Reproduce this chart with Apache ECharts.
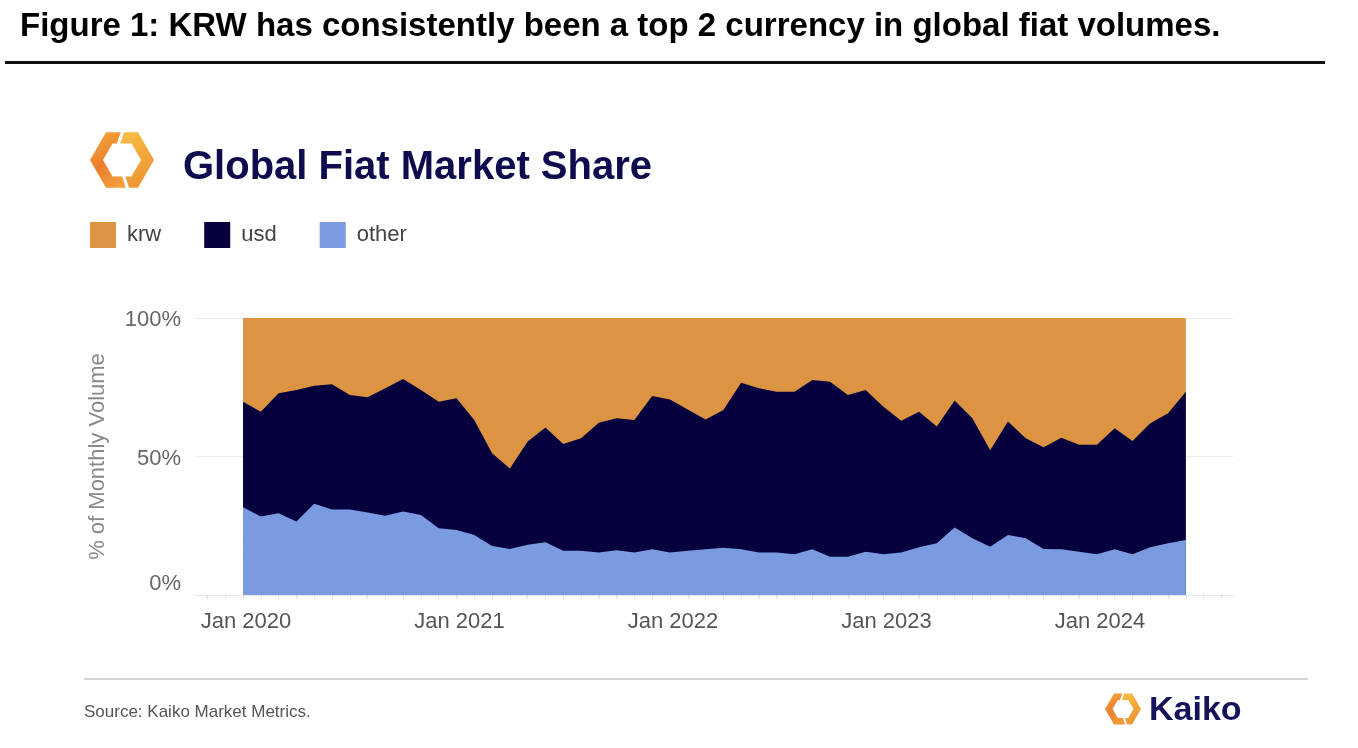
<!DOCTYPE html>
<html>
<head>
<meta charset="utf-8">
<script src="https://cdn.jsdelivr.net/npm/echarts@6/dist/echarts.min.js"></script>
<style>
html,body{margin:0;padding:0;background:#fff;}
#chart{width:1358px;height:748px;}
</style>
</head>
<body>
<div id="chart"></div>
<script>
const months = ['Jan 2020','Feb 2020','Mar 2020','Apr 2020','May 2020','Jun 2020','Jul 2020','Aug 2020','Sep 2020','Oct 2020','Nov 2020','Dec 2020',
'Jan 2021','Feb 2021','Mar 2021','Apr 2021','May 2021','Jun 2021','Jul 2021','Aug 2021','Sep 2021','Oct 2021','Nov 2021','Dec 2021',
'Jan 2022','Feb 2022','Mar 2022','Apr 2022','May 2022','Jun 2022','Jul 2022','Aug 2022','Sep 2022','Oct 2022','Nov 2022','Dec 2022',
'Jan 2023','Feb 2023','Mar 2023','Apr 2023','May 2023','Jun 2023','Jul 2023','Aug 2023','Sep 2023','Oct 2023','Nov 2023','Dec 2023',
'Jan 2024','Feb 2024','Mar 2024','Apr 2024','May 2024','Jun 2024'];

const tickLabels = ['Jan 2020','Jan 2021','Jan 2022','Jan 2023','Jan 2024'];
const yTickLabels = ['0%','50%','100%'];

const other = [31.7,28.3,29.5,26.5,32.9,30.9,30.9,29.8,28.6,30.1,28.9,24.1,23.5,21.7,17.7,16.6,18.1,19.0,16.0,16.0,15.3,16.2,15.3,16.5,15.3,16.0,16.5,17.1,16.5,15.3,15.3,14.7,16.5,13.8,13.8,15.6,14.7,15.3,17.2,18.7,24.4,20.5,17.4,21.7,20.5,16.6,16.5,15.6,14.7,16.5,14.7,17.2,18.7,19.9];
const usd = [38.1,37.9,43.3,47.5,42.6,45.2,41.3,41.6,46.0,47.9,45.1,45.7,47.5,41.5,33.5,29.1,37.3,41.5,38.5,40.6,46.9,47.6,47.9,55.3,55.3,51.0,46.9,49.7,60.1,59.3,58.1,58.7,61.1,63.2,58.4,58.4,53.3,47.6,49.0,42.1,45.8,43.3,34.9,40.9,36.1,36.7,40.3,38.6,39.5,43.7,40.9,44.8,46.9,53.5];
const krw = [30.2,33.8,27.2,26.0,24.5,23.9,27.8,28.6,25.4,22.0,26.0,30.2,29.0,36.8,48.8,54.3,44.6,39.5,45.5,43.4,37.8,36.2,36.8,28.2,29.4,33.0,36.6,33.2,23.4,25.4,26.6,26.6,22.4,23.0,27.8,26.0,32.0,37.1,33.8,39.2,29.8,36.2,47.7,37.4,43.4,46.7,43.2,45.8,45.8,39.8,44.4,38.0,34.4,26.6];

const COLORS = {krw:'#DC9443', usd:'#06003F', other:'#7A9BE0'};
const FONT = '"Liberation Sans", Arial, Helvetica, sans-serif';

// cumulative (stacked) tops, bottom-to-top: other, usd, krw
const cumOther = other.map((v,i) => [i, v]);
const cumUsd = usd.map((v,i) => [i, +(other[i] + v).toFixed(2)]);
const cumKrw = krw.map((v,i) => [i, +(other[i] + usd[i] + v).toFixed(2)]);

const chart = echarts.init(document.getElementById('chart'), null, {renderer:'canvas'});

function logo(cx, cy, R, r) {
  const h = 0.866;
  const gap = R*0.08;
  const leftPts = [
    [cx - gap*0.5, cy - h*R], [cx - R/2, cy - h*R], [cx - R, cy], [cx - R/2, cy + h*R], [cx + gap*1.5, cy + h*R],
    [cx + gap*1.5 - (R-r)*0.3, cy + h*r], [cx - r/2, cy + h*r], [cx - r, cy], [cx - r/2, cy - h*r], [cx - gap*0.5 - (R-r)*0.3, cy - h*r]
  ];
  const rightPts = [
    [cx + gap*0.8, cy - h*R], [cx + R/2, cy - h*R], [cx + R, cy], [cx + R/2, cy + h*R], [cx + gap*2.8, cy + h*R],
    [cx + gap*2.8 - (R-r)*0.3, cy + h*r], [cx + r/2, cy + h*r], [cx + r, cy], [cx + r/2, cy - h*r], [cx + gap*0.8 - (R-r)*0.3, cy - h*r]
  ];
  return [
    {type:'polygon', shape:{points:leftPts}, style:{fill:new echarts.graphic.LinearGradient(0,0,1,1,[{offset:0,color:'#F4AE3E'},{offset:0.5,color:'#EC7E2E'},{offset:1,color:'#F2A43A'}])}},
    {type:'polygon', shape:{points:rightPts}, style:{fill:new echarts.graphic.LinearGradient(0,0,1,1,[{offset:0,color:'#F6C046'},{offset:0.6,color:'#F0A23A'},{offset:1,color:'#EE8E32'}])}}
  ];
}

const monthTicks = [];
for (let i = -2; i <= months.length + 1; i++) monthTicks.push(i);

function areaSeries(name, data, z) {
  return {name, type:'line', data, z, symbol:'none', showSymbol:false,
    lineStyle:{width:0}, areaStyle:{color:COLORS[name], opacity:1, origin:'start'},
    itemStyle:{color:COLORS[name]}, emphasis:{disabled:true}};
}

const option = {
  backgroundColor:'#ffffff',
  animation:false,
  textStyle:{fontFamily:FONT},
  legend:{
    data:['krw','usd','other'],
    left:90, top:222, padding:0,
    itemWidth:26, itemHeight:26, itemGap:43,
    icon:'rect',
    textStyle:{fontSize:22, color:'#444', fontFamily:FONT, padding:[3,0,0,6]},
    selectedMode:false
  },
  grid:{left:195, right:125, top:318, bottom:153, containLabel:false},
  xAxis:{
    type:'value',
    min:-2.7, max:55.65,
    axisLine:{show:true, lineStyle:{color:'#e6e6e6', width:1}},
    splitLine:{show:false},
    axisTick:{show:true, customValues:monthTicks, length:4, lineStyle:{color:'#dedede'}},
    axisLabel:{
      customValues:tickLabels.map(l => months.indexOf(l)),
      formatter:v => months[v],
      fontSize:22, color:'#555', margin:16, fontFamily:FONT, padding:[0,0,0,6]
    }
  },
  yAxis:{
    type:'value', min:0, max:100, interval:50,
    name:'% of Monthly Volume', nameLocation:'middle', nameGap:86, nameRotate:90,
    nameTextStyle:{fontSize:22, color:'#888', fontFamily:FONT},
    axisLine:{show:false}, axisTick:{show:false},
    splitLine:{lineStyle:{color:'#ececec', width:1}},
    axisLabel:{
      fontSize:22, color:'#666', margin:14, fontFamily:FONT, padding:[4,0,0,0],
      formatter:v => { const t = yTickLabels[v/50]; return v === 0 ? '{z|' + t + '}' : t; },
      rich:{z:{fontSize:22, color:'#666', fontFamily:FONT, padding:[0,0,26,0]}}
    }
  },
  series:[
    areaSeries('krw', cumKrw, 1),
    areaSeries('usd', cumUsd, 2),
    areaSeries('other', cumOther, 3)
  ],
  graphic:[
    {type:'text', left:20, top:10, style:{text:'Figure 1: KRW has consistently been a top 2 currency in global fiat volumes.', font:'bold 33px ' + FONT, fill:'#000'}},
    {type:'rect', shape:{x:5, y:61, width:1320, height:3}, style:{fill:'#111'}},
    ...logo(122, 160, 32, 19),
    {type:'text', left:183, top:148, style:{text:'Global Fiat Market Share', font:'bold 40px ' + FONT, fill:'#0E0C4E'}},
    {type:'rect', shape:{x:84, y:678, width:1224, height:2}, style:{fill:'#d4d4d4'}},
    {type:'text', left:84, top:704, style:{text:'Source: Kaiko Market Metrics.', font:'17px ' + FONT, fill:'#555'}},
    ...logo(1123, 709, 18, 10.5),
    {type:'text', left:1149, top:694, style:{text:'Kaiko', font:'bold 34px ' + FONT, fill:'#15135A'}}
  ]
};
chart.setOption(option);
</script>
</body>
</html>
